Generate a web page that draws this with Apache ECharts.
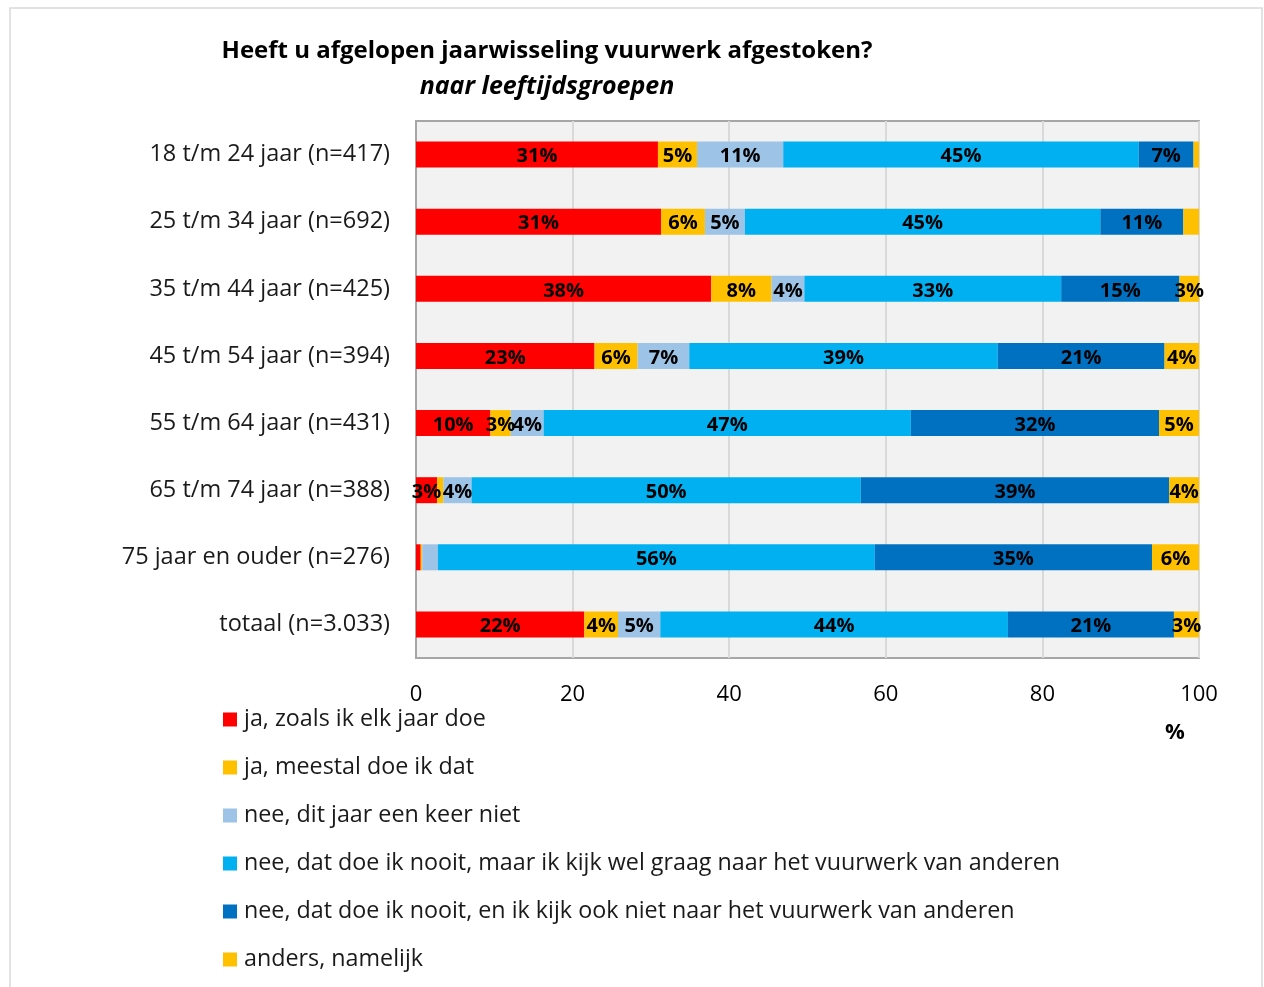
<!DOCTYPE html>
<html>
<head>
<meta charset="utf-8">
<title>Vuurwerk</title>
<script src="https://cdn.jsdelivr.net/npm/echarts@6/dist/echarts.min.js"></script>
<style>
  * { margin: 0; padding: 0; }
  body { background: #fff; }
  #main { width: 1264px; height: 987px; }
</style>
</head>
<body>
<div id="main"></div>
<script>
// categorieen (boven naar beneden)
var categories = [
  '18 t/m 24 jaar (n=417)',
  '25 t/m 34 jaar (n=692)',
  '35 t/m 44 jaar (n=425)',
  '45 t/m 54 jaar (n=394)',
  '55 t/m 64 jaar (n=431)',
  '65 t/m 74 jaar (n=388)',
  '75 jaar en ouder (n=276)',
  'totaal (n=3.033)'
];
var seriesNames = [
  'ja, zoals ik elk jaar doe',
  'ja, meestal doe ik dat',
  'nee, dit jaar een keer niet',
  'nee, dat doe ik nooit, maar ik kijk wel graag naar het vuurwerk van anderen',
  'nee, dat doe ik nooit, en ik kijk ook niet naar het vuurwerk van anderen',
  'anders, namelijk'
];
// waarden in %
var jaElkJaar   = [30.9, 31.3, 37.7, 22.8, 9.5, 2.7, 0.6, 21.5];
var jaMeestal   = [5.0, 5.6, 7.7, 5.5, 2.6, 0.8, 0.2, 4.3];
var neeDitJaar  = [11.0, 5.1, 4.2, 6.6, 4.2, 3.6, 2.0, 5.4];
var neeWelKijk  = [45.4, 45.4, 32.8, 39.4, 46.9, 49.7, 55.8, 44.4];
var neeNietKijk = [7.0, 10.6, 15.1, 21.3, 31.7, 39.4, 35.4, 21.2];
var anders      = [0.7, 2.0, 2.6, 4.4, 5.2, 3.8, 6.0, 3.2];
var xTicks = [0, 20, 40, 60, 80, 100];

var colors = ['#ff0000', '#ffc000', '#9dc3e6', '#00b0f0', '#0070c0', '#ffc000'];
var allData = [jaElkJaar, jaMeestal, neeDitJaar, neeWelKijk, neeNietKijk, anders];

var font = '"Open Sans", sans-serif';

var series = [];
for (let i = 0; i < allData.length; i++) {
  series.push({
    name: seriesNames[i],
    type: 'bar',
    stack: 'totaal',
    barWidth: 26,
    data: allData[i],
    itemStyle: { color: colors[i] },
    label: {
      show: true,
      position: 'inside',
      color: '#000',
      fontWeight: 'bold',
      fontSize: 20,
      fontFamily: font,
      overflow: 'none',
      offset: [0, 2],
      formatter: function (p) {
        var v = Math.round(p.value);
        return v >= 3 ? v + '%' : '';
      }
    },
    emphasis: { disabled: true }
  });
}

var myChart = echarts.init(document.getElementById('main'));
var option = {
  animation: false,
  title: [
    {
      text: 'Heeft u afgelopen jaarwisseling vuurwerk afgestoken?',
      left: 542, top: 34, textAlign: 'center',
      textStyle: { fontFamily: font, fontSize: 24, fontWeight: 'bold', color: '#000' }
    },
    {
      text: 'naar leeftijdsgroepen',
      left: 542, top: 69, textAlign: 'center',
      textStyle: { fontFamily: font, fontSize: 25, fontWeight: 'bold', fontStyle: 'italic', color: '#000' }
    },
    {
      text: '%',
      left: 1170, top: 717, textAlign: 'center',
      textStyle: { fontFamily: font, fontSize: 22, fontWeight: 'bold', color: '#000' }
    }
  ],
  graphic: [{
    type: 'rect',
    shape: { x: 10, y: 8, width: 1252, height: 1000 },
    style: { fill: 'none', stroke: '#d9d9d9', lineWidth: 1.5 },
    silent: true
  }],
  legend: {
    orient: 'vertical',
    left: 223, top: 708,
    padding: 0,
    itemWidth: 14, itemHeight: 14, itemGap: 25,
    icon: 'rect',
    selectedMode: false,
    textStyle: { fontFamily: font, fontSize: 23.3, color: '#1a1a1a', padding: [0, 0, 0, 2] },
    data: seriesNames
  },
  grid: {
    left: 416, right: 65, top: 121, bottom: 329,
    show: true,
    backgroundColor: '#f2f2f2',
    borderColor: '#a6a6a6',
    borderWidth: 2
  },
  xAxis: {
    type: 'value',
    min: 0, max: 100, interval: 20,
    axisLine: { show: false },
    axisTick: { show: false },
    splitLine: { show: true, lineStyle: { color: '#d9d9d9', width: 2 } },
    axisLabel: {
      fontFamily: font, fontSize: 22, color: '#000', margin: 26,
      formatter: function (v) { return xTicks.indexOf(v) >= 0 ? String(v) : ''; }
    }
  },
  yAxis: {
    type: 'category',
    inverse: true,
    data: categories,
    axisLine: { show: true, lineStyle: { color: '#a6a6a6', width: 2 } },
    axisTick: { show: false },
    axisLabel: { fontFamily: font, fontSize: 23.5, color: '#1a1a1a', margin: 26 }
  },
  series: series
};
myChart.setOption(option);
</script>
</body>
</html>
